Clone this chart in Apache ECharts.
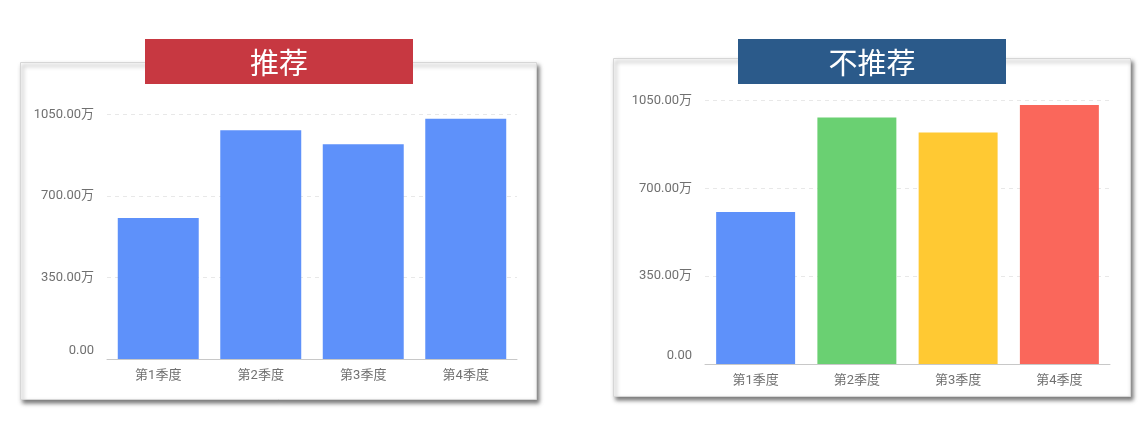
<!DOCTYPE html>
<html>
<head>
<meta charset="utf-8">
<script src="https://cdn.jsdelivr.net/npm/echarts@6/dist/echarts.min.js"></script>
<style>
html,body{margin:0;padding:0;background:#fff;}
#c{width:1148px;height:435px;}
</style>
</head>
<body>
<div id="c"></div>
<script>
const categories = ['第1季度', '第2季度', '第3季度', '第4季度'];
const recommendValues = [606, 982, 922, 1032];
const notRecommendValues = [606, 982, 922, 1032];
const yTicks = [0, 350, 700, 1050];
const leftTitle = '推荐';
const rightTitle = '不推荐';
const leftBarColor = '#5E91FA';
const rightBarColors = ['#5E91FA', '#6AD072', '#FFC933', '#FA675B'];

const chart = echarts.init(document.getElementById('c'), null, {renderer: 'canvas'});

function yLabel(v) { return v === 0 ? '{z|0.00}' : v.toFixed(2) + '万'; }

const axisLabelY = {color: '#707070', fontSize: 13, fontFamily: 'Roboto, "Noto Sans CJK SC", sans-serif', margin: 13,
  formatter: yLabel,
  rich: {z: {color: '#707070', fontSize: 13, fontFamily: 'Roboto, sans-serif', padding: [0, 0, 16, 0]}}};
const axisLabelX = {color: '#707070', fontSize: 13, fontFamily: 'Roboto, "Noto Sans CJK SC", sans-serif', margin: 10};

function yAxis(gi) {
  return {
    type: 'value', gridIndex: gi, min: yTicks[0], max: yTicks[yTicks.length - 1], interval: 350,
    axisLine: {show: false}, axisTick: {show: false},
    axisLabel: axisLabelY,
    splitLine: {show: true, lineStyle: {color: '#e8e8e8', type: [4, 4], width: 1}}
  };
}
function xAxis(gi) {
  return {
    type: 'category', gridIndex: gi, data: categories,
    axisLine: {show: true, lineStyle: {color: '#c8c8c8', width: 1}},
    axisTick: {show: false},
    axisLabel: axisLabelX
  };
}

function panel(x, y, w, h) {
  return {
    type: 'rect', z: -10, silent: true,
    shape: {x: x, y: y, width: w, height: h},
    style: {fill: '#fff', stroke: '#d6d6d6', lineWidth: 1,
      shadowBlur: 4, shadowOffsetX: 2, shadowOffsetY: 3, shadowColor: 'rgba(0,0,0,0.5)'}
  };
}
function banner(x, y, w, h, color, text) {
  return {
    type: 'group', z: 100,
    children: [
      {type: 'rect', shape: {x: x, y: y, width: w, height: h}, style: {fill: color}},
      {type: 'text', x: x + w / 2, y: y + h / 2 + 1,
        style: {text: text, fill: '#fff', fontSize: 29, fontFamily: '"Noto Sans CJK SC", sans-serif',
          align: 'center', verticalAlign: 'middle'}}
    ]
  };
}

chart.setOption({
  animation: false,
  backgroundColor: '#fff',
  graphic: [
    panel(20.5, 62.5, 516, 337),
    panel(613.5, 58.5, 517, 338),
    banner(145, 39, 268, 45, '#C73841', leftTitle),
    banner(738, 39, 268, 45, '#2B5A8A', rightTitle)
  ],
  grid: [
    {left: 107, top: 114.5, width: 410, height: 244.5},
    {left: 705, top: 100.5, width: 405, height: 263.5}
  ],
  xAxis: [xAxis(0), xAxis(1)],
  yAxis: [yAxis(0), yAxis(1)],
  series: [
    {type: 'bar', xAxisIndex: 0, yAxisIndex: 0, data: recommendValues, barWidth: '79%',
      itemStyle: {color: leftBarColor}},
    {type: 'bar', xAxisIndex: 1, yAxisIndex: 1, barWidth: '78%',
      data: notRecommendValues.map((v, i) => ({value: v, itemStyle: {color: rightBarColors[i]}}))}
  ]
});
</script>
</body>
</html>
